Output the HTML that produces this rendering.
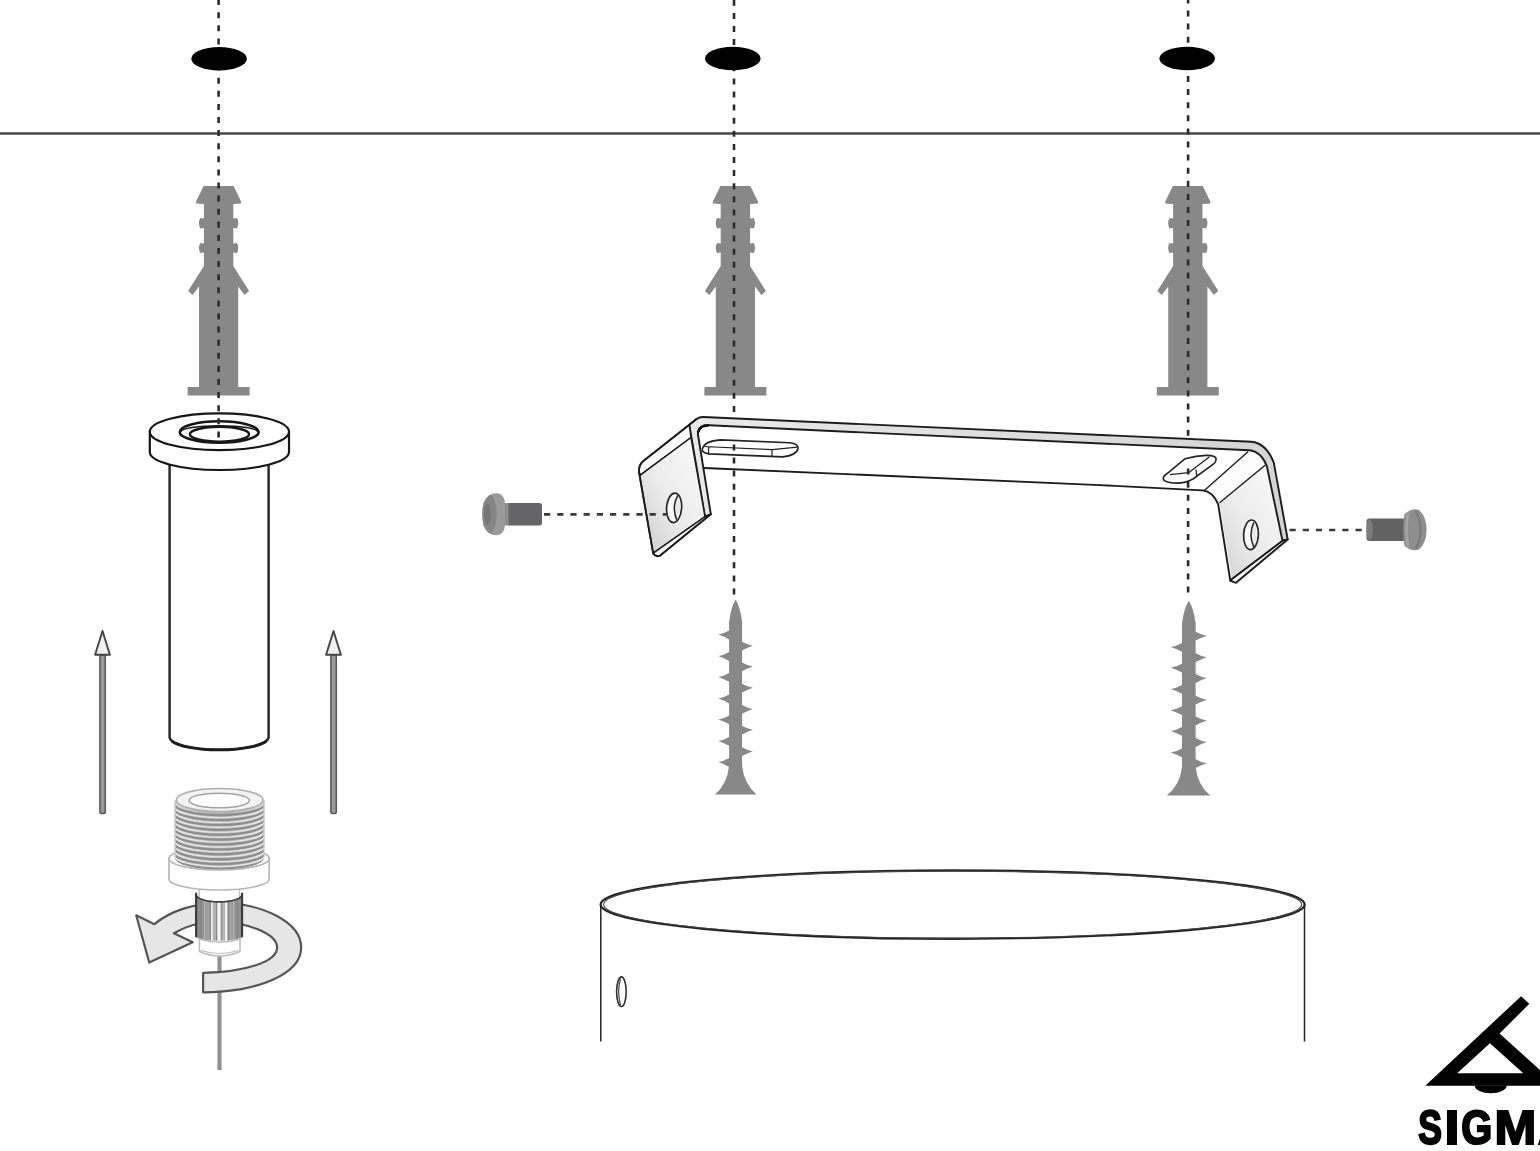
<!DOCTYPE html>
<html><head><meta charset="utf-8">
<style>
html,body{margin:0;padding:0;background:#fff;}
body{width:1540px;height:1151px;overflow:hidden;font-family:"Liberation Sans",sans-serif;}
svg{display:block;}
</style></head><body>
<svg width="1540" height="1151" viewBox="0 0 1540 1151">
<defs>
  <filter id="b" x="-5%" y="-5%" width="110%" height="110%"><feGaussianBlur stdDeviation="0.6"/></filter>
  <!-- wall plug, centred on x=0 -->
  <path id="plug" fill="#888" d="M-15,186 L15,186 L22.5,201.5 L22.5,203.5 L14.7,204
    L14.7,218.5 L18.3,218 Q21,223 18.3,228.5 L14.7,228 L14.7,243.5 L18.3,243 Q21,248 18.3,253 L14.7,252.5
    L14.7,266 L30.5,291 L26,295 L19.6,286.5 L19.6,387 L31,387 L31,395.5 L-31,395.5 L-31,387 L-19.6,387
    L-19.6,286.5 L-26,295 L-30.5,291 L-14.7,266
    L-14.7,252.5 L-18.3,253 Q-21,248 -18.3,243 L-14.7,243.5 L-14.7,228 L-18.3,228.5 Q-21,223 -18.3,218 L-14.7,218.5
    L-14.7,204 L-22.5,203.5 L-22.5,201.5 Z"/>
</defs>
<rect width="1540" height="1151" fill="#fff"/>
<g filter="url(#b)">
<!-- ceiling line -->
<line x1="-6" y1="133.5" x2="1546" y2="133.5" stroke="#484848" stroke-width="2.3"/>

<!-- plugs -->
<use href="#plug" x="218.6"/>
<use href="#plug" x="735.4"/>
<use href="#plug" x="1187.8"/>


<!-- dashed verticals (upper part) -->
<g stroke="#2c2c2c" stroke-width="2.6" stroke-dasharray="6 7.1" fill="none">
  <line x1="734" y1="-0.2" x2="734" y2="415"/>
  <line x1="1188.1" y1="-2.6" x2="1188.1" y2="436"/>
</g>
<!--LEFT-BEGIN-->
<!-- LEFT: flanged tube -->
<g stroke="#151515" stroke-width="2.2" fill="#fff" stroke-linejoin="round">
  <!-- tube -->
  <path d="M169.6,462 L169.6,737 A49.5,12.5 0 0 0 268.6,737 L268.6,462 Z" stroke="#2c2c2c" stroke-width="2.5"/>
  <path d="M171.5,741 A49.5,12.5 0 0 0 266.7,741" fill="none" stroke="#1a1a1a" stroke-width="2.6"/>
  <!-- flange side -->
  <path d="M149.8,431.8 L149.8,452 A69.6,18 0 0 0 289,452 L289,431.8 Z"/>
  <!-- flange top -->
  <ellipse cx="219.4" cy="431.8" rx="69.6" ry="18.4"/>
  <ellipse cx="219.2" cy="432" rx="39.5" ry="10.7" stroke-width="2.6"/>
  <path d="M181,431.8 A38.2,6 0 0 1 257.4,431.8" fill="none" stroke-width="1.6"/>
  <ellipse cx="219.5" cy="434.2" rx="29.6" ry="7.4" stroke-width="2.4"/>
</g>
<line x1="218.6" y1="-0.9" x2="218.6" y2="438" stroke="#2c2c2c" stroke-width="2.6" stroke-dasharray="6 7.1"/>

<!-- up arrows -->
<g stroke="#555" stroke-width="1.5" stroke-linejoin="round">
  <rect x="99.9" y="655" width="5.4" height="158.6" rx="1.5" fill="#9a9a9a"/>
  <path d="M102.5,631 L109.9,654.8 L95.1,654.8 Z" fill="#f0f0f0" stroke="#444" stroke-width="1.9"/>
  <rect x="330.9" y="655" width="5.4" height="158.6" rx="1.5" fill="#9a9a9a"/>
  <path d="M333.5,631 L340.9,654.8 L326.1,654.8 Z" fill="#f0f0f0" stroke="#444" stroke-width="1.9"/>
</g>

<!-- wire -->
<line x1="219.5" y1="950" x2="219.5" y2="1070" stroke="#909090" stroke-width="4.2"/>

<!-- rotation arrow: back part (behind knurl) -->
<path id="rot" fill="#e6e6e6" stroke="#555" stroke-width="2.2" stroke-linejoin="round"
 d="M203.1,972.9 C245,972 277.1,962 277.1,947.5 C277.1,933 245,922 219,922 C200,922 184,927 173.9,933.2
    L192.7,942.3 L149.2,962.5 L136.2,915.3 L154.4,924.2 C170,911 195,903 219,903 C264,903 301.2,923 301.2,947.5
    C301.2,974 258,992 203.1,992.3 Z"/>

<!-- threaded nipple -->
<g>
  <!-- neck -->
  <rect x="199" y="888" width="40" height="12" fill="#fff"/><path d="M199.3,888 L199.3,897 M239.5,888 L239.5,897" fill="none" stroke="#c4c4c4" stroke-width="1.5"/>
  <!-- collar (behind threads) -->
  <path d="M169,858.5 L169,879 A50,11 0 0 0 269.2,879 L269.2,858.5 Z" fill="#fff" stroke="#b8b8b8" stroke-width="1.7"/>
  <ellipse cx="219.1" cy="858.5" rx="50.1" ry="11.5" fill="#fff" stroke="#b8b8b8" stroke-width="1.7"/>
  <clipPath id="thr"><path d="M175,800 L175,858 A44.5,11.5 0 0 0 264,858 L264,800 A44.5,11.5 0 0 0 175,800 Z"/></clipPath>
  <linearGradient id="thg" x1="0" x2="1" y1="0" y2="0">
    <stop offset="0" stop-color="#d9d9d9"/><stop offset="0.3" stop-color="#bdbdbd"/><stop offset="0.6" stop-color="#b4b4b4"/><stop offset="1" stop-color="#dcdcdc"/>
  </linearGradient>
  <path d="M175,800 L175,858 A44.5,11.5 0 0 0 264,858 L264,800 Z" fill="url(#thg)"/>
  <g clip-path="url(#thr)" fill="none" stroke="#8f8f8f" stroke-width="2.3">
    <path d="M174,803.5 A45,11.5 0 0 0 265,803.5"/>
    <path d="M174,808.4 A45,11.5 0 0 0 265,808.4"/>
    <path d="M174,813.3 A45,11.5 0 0 0 265,813.3"/>
    <path d="M174,818.2 A45,11.5 0 0 0 265,818.2"/>
    <path d="M174,823.1 A45,11.5 0 0 0 265,823.1"/>
    <path d="M174,828 A45,11.5 0 0 0 265,828"/>
    <path d="M174,832.9 A45,11.5 0 0 0 265,832.9"/>
    <path d="M174,837.8 A45,11.5 0 0 0 265,837.8"/>
    <path d="M174,842.7 A45,11.5 0 0 0 265,842.7"/>
    <path d="M174,847.6 A45,11.5 0 0 0 265,847.6"/>
    <path d="M174,852.5 A45,11.5 0 0 0 265,852.5"/>
    <path d="M174,857 A45,11.5 0 0 0 265,857"/>
  </g>
  <g clip-path="url(#thr)" fill="none" stroke="#e6e6e6" stroke-width="1.3">
    <path d="M174,805.95 A45,11.5 0 0 0 265,805.95"/>
    <path d="M174,810.85 A45,11.5 0 0 0 265,810.85"/>
    <path d="M174,815.75 A45,11.5 0 0 0 265,815.75"/>
    <path d="M174,820.65 A45,11.5 0 0 0 265,820.65"/>
    <path d="M174,825.55 A45,11.5 0 0 0 265,825.55"/>
    <path d="M174,830.45 A45,11.5 0 0 0 265,830.45"/>
    <path d="M174,835.35 A45,11.5 0 0 0 265,835.35"/>
    <path d="M174,840.25 A45,11.5 0 0 0 265,840.25"/>
    <path d="M174,845.15 A45,11.5 0 0 0 265,845.15"/>
    <path d="M174,850.05 A45,11.5 0 0 0 265,850.05"/>
    <path d="M174,854.95 A45,11.5 0 0 0 265,854.95"/>
  </g>
  <path d="M175,800 L175,857 M264,800 L264,857" stroke="#c9c9c9" stroke-width="1.4" fill="none"/>
  <ellipse cx="219.7" cy="800" rx="43.4" ry="11.5" fill="#f3f3f3" stroke="#b0b0b0" stroke-width="1.6"/>
  <ellipse cx="219.2" cy="800.5" rx="30.2" ry="7.3" fill="#fff" stroke="#a4a4a4" stroke-width="1.6"/>
</g>
<!-- knurl -->
<g>
  <linearGradient id="kng" x1="0" x2="1" y1="0" y2="0">
    <stop offset="0" stop-color="#868686"/><stop offset="0.28" stop-color="#a2a2a2"/><stop offset="0.5" stop-color="#c6c6c6"/><stop offset="0.72" stop-color="#a4a4a4"/><stop offset="1" stop-color="#8a8a8a"/>
  </linearGradient>
  <clipPath id="kn"><path d="M196.1,894.5 A23,7.4 0 0 0 242.1,894.5 L242.1,936.3 A23,4.5 0 0 1 196.1,936.3 Z"/></clipPath>
  <path d="M196.1,894.5 A23,7.4 0 0 0 242.1,894.5 L242.1,936.3 A23,4.5 0 0 1 196.1,936.3 Z" fill="url(#kng)"/>
  <g clip-path="url(#kn)">
    <g stroke="#f4f4f4">
      <line x1="211.9" y1="890" x2="211.9" y2="945" stroke-width="1.7"/>
      <line x1="219" y1="890" x2="219" y2="945" stroke-width="2.8"/>
      <line x1="226.2" y1="890" x2="226.2" y2="945" stroke-width="2.1"/>
      <line x1="204.5" y1="890" x2="204.5" y2="945" stroke-width="0.9" stroke="#b4b4b4"/>
      <line x1="233.5" y1="890" x2="233.5" y2="945" stroke-width="0.9" stroke="#b4b4b4"/>
    </g>
    <g stroke="#7a7a7a" stroke-width="0.9">
      <line x1="210.3" y1="890" x2="210.3" y2="945"/><line x1="216.4" y1="890" x2="216.4" y2="945"/>
      <line x1="221.8" y1="890" x2="221.8" y2="945"/><line x1="228.6" y1="890" x2="228.6" y2="945"/>
      <line x1="201" y1="890" x2="201" y2="945"/><line x1="237" y1="890" x2="237" y2="945"/>
    </g>
  </g>
  <path d="M196.1,936.5 L196.1,893.5 M242.1,893.5 L242.1,936.5" fill="none" stroke="#3a3a3a" stroke-width="2.1" stroke-linecap="round"/>
  <path d="M196.1,894.5 A23,7.4 0 0 0 242.1,894.5" fill="none" stroke="#3a3a3a" stroke-width="1.7"/>
  <!-- lower cap -->
  <path d="M199.4,939 L199.4,951.5 Q219.500,960.500 240,951.5 L240,939 Q219.5,945.500 199.4,939 Z" fill="#fff" stroke="#bdbdbd" stroke-width="1.5"/>
  <path d="M201,950.300 Q219.500,956.800 238.500,950.300" fill="none" stroke="#c6c6c6" stroke-width="1.3"/>
</g>
<!--LEFT-END-->
<!--BRACKET-BEGIN-->
<!-- BRACKET -->
<defs>
  <linearGradient id="flapL" x1="0" y1="1" x2="1" y2="0">
    <stop offset="0" stop-color="#c9c9c9"/><stop offset="0.45" stop-color="#ececec"/><stop offset="1" stop-color="#fafafa"/>
  </linearGradient>
  <linearGradient id="flapR" x1="0" y1="1" x2="1" y2="0">
    <stop offset="0" stop-color="#cdcdcd"/><stop offset="0.5" stop-color="#ededed"/><stop offset="1" stop-color="#fbfbfb"/>
  </linearGradient>
  <linearGradient id="edgeG" x1="0" y1="0" x2="1" y2="0">
    <stop offset="0" stop-color="#e9e9e9"/><stop offset="1" stop-color="#d4d4d4"/>
  </linearGradient>
</defs>
<g stroke="#1c1c1c" stroke-width="1.9" stroke-linejoin="round" stroke-linecap="round" fill="#fff">
  <!-- top plate (upper surface seen from below) -->
  <path d="M702,430 L1249,450.5 L1204,490.5 L705,468 Z" stroke="none"/>
  <!-- right flap face -->
  <path d="M1204.3,490.4 L1247.7,452.1 L1265.1,465.2 L1282.5,539.5 L1232,579 L1219.5,503 Z" fill="url(#flapR)" stroke="none"/>
  <!-- right bend zone white -->
  <path d="M1204.3,490.4 L1247.7,452.1 L1265.1,465.2 L1219.9,502.5 Z" fill="#fdfdfd" stroke="none"/>
  <!-- front thickness band: left flap right strip + top + right edge -->
  <path d="M705,516.7 L689.3,424.8 L696.5,419 Q699.5,416.8 703.5,417 L1251.2,441.8 Q1266,443 1273.8,462.6 L1287.7,539.5 L1282.5,540.7 L1266.8,466 Q1261,451.5 1249.4,450.3 L709,425.3 Q699.6,424.8 697.8,433.5 L710.8,514.2 Z" fill="url(#edgeG)"/>
  <path d="M698.2,431.5 Q699.8,425.6 708,425.4" fill="none" stroke="#111" stroke-width="2.6"/>
  <!-- right flap bottom strip -->
  <path d="M1282.5,540.7 L1287.7,539.5 L1236,582.8 L1230.3,580.7 L1232,579 Z" fill="#f4f4f4"/>
  <!-- right flap outlines -->
  <path d="M1100,485.1 L1202.5,490.4 Q1213,491.5 1218.2,504.3 L1230.3,580.7" fill="none"/>
  <path d="M1204.3,490.4 L1247.7,452.1" fill="none" stroke-width="1.4"/>
  <path d="M1219.9,502.5 L1265.1,465.2" fill="none" stroke-width="1.4"/>
  <path d="M1232,579 L1282.5,540.7" fill="none" stroke-width="1.3"/>
  <!-- top plate lower (far) edge -->
  <path d="M704.2,468 L1100,485.1" fill="none"/>

  <!-- left flap: top strip -->
  <path d="M638.9,471.5 Q639.3,464.5 643.3,461.1 L689.3,424.8 L691,437.5 L640.3,475.2 Z" fill="#fcfcfc" stroke-width="1.5"/>
  <!-- left flap face -->
  <path d="M638.9,471.5 L640.3,475.2 L691,437.5 L705,516.7 L654.7,552.1 L653.2,553.6 Z" fill="url(#flapL)" stroke-width="1.5"/>
  <!-- left flap bottom strip -->
  <path d="M653.2,553.6 L654.7,552.1 L705,516.7 L710.8,514.2 L659.9,555.8 Q655.5,557 653.2,553.6 Z" fill="#f3f3f3" stroke-width="1.4"/>
  <!-- left flap outer outline -->
  <path d="M696.5,419 L643.3,461.1 Q638.8,464.5 638.9,471.5 L653.2,553.6 Q655.5,557.2 659.9,555.8 L710.8,514.2" fill="none" stroke-width="1.9"/>
</g>

<!-- holes in flaps -->
<g stroke="#252525" stroke-width="1.7" fill="#f9f9f9">
  <ellipse cx="674.1" cy="507.8" rx="7.5" ry="14.8" transform="rotate(4 674.1 507.8)"/>
  <path d="M677.8,495.3 Q671.2,507.6 677,520.4 Q683.5,508 677.8,495.3 Z" fill="#e9e9e9" stroke="none"/>
  <path d="M677.8,495.300 Q671.2,507.6 677,520.4" fill="none" stroke-width="1.5"/>
  <ellipse cx="1251" cy="534.8" rx="7.4" ry="14.8" transform="rotate(3 1251 534.8)"/>
  <path d="M1253.8,522.4 Q1248.2,534.8 1253.8,547.1 Q1260,535 1253.8,522.4 Z" fill="#e9e9e9" stroke="none"/>
  <path d="M1253.8,522.4 Q1248.2,534.8 1253.8,547.1" fill="none" stroke-width="1.5"/>
</g>

<!-- left slot -->
<g stroke="#222" stroke-width="1.6" fill="#fff" stroke-linejoin="round">
  <path d="M720.4,439.9 L789.9,442.8 Q799,444 798,448.5 Q796.5,455.5 782.5,456.9 L708.6,453.9 Q701,452.5 702.5,448.5 Q705,441 720.4,439.9 Z"/>
  <path d="M703.5,446.5 L772,449.6 L797.5,447.2 M772,449.6 L772,456.4 M708.6,447 L708.6,453.6" fill="none" stroke-width="1.2"/>
</g>
<!-- right slot -->
<g stroke="#222" stroke-width="1.6" fill="#fff" stroke-linejoin="round">
  <path d="M1185.1,458.7 Q1196,455.8 1206,455.4 Q1217,455.2 1216,459.8 Q1215.5,462.2 1214.3,463.4 L1193,479 Q1185,483.8 1173.4,483 Q1162,482 1163.4,477.5 Q1164.5,475 1167.5,473.3 Z"/>
  <path d="M1169.9,474.6 L1188.6,472.7 L1209.5,456.8 M1196,469.5 L1196.8,476.6" fill="none" stroke-width="1.3"/>
</g>

<!-- dashed verticals, lower parts (in front of plate) -->
<g stroke="#2c2c2c" stroke-width="2.6" stroke-dasharray="6 7.1" fill="none">
  <line x1="734" y1="444.4" x2="734" y2="597"/>
  <line x1="1188.1" y1="468.6" x2="1188.1" y2="598"/>
</g>

<!-- horizontal dashed -->
<g stroke="#3a3a3a" stroke-width="2.6" stroke-dasharray="6.2 7" fill="none">
  <line x1="544" y1="514.4" x2="668" y2="514.4"/>
  <line x1="1289.5" y1="530" x2="1363" y2="530"/>
</g>

<!-- bolts -->
<g>
  <rect x="506" y="503.1" width="36" height="22.3" rx="2.6" fill="#656567"/>
  <rect x="503.5" y="503.1" width="5.2" height="22.3" fill="#8b8b8b"/>
  <clipPath id="bh1"><path d="M504.6,500.2 Q503,494.300 497.5,493.2 Q488,492.300 483.600,503 Q481,514.2 483.600,525.500 Q488,536 497.5,535.2 Q503,534 504.6,527.9 Q506,514 504.6,500.2 Z"/></clipPath>
  <path d="M504.6,500.2 Q503,494.300 497.5,493.2 Q488,492.300 483.600,503 Q481,514.2 483.600,525.500 Q488,536 497.5,535.2 Q503,534 504.6,527.9 Q506,514 504.6,500.2 Z" fill="#9a9a9b"/>
  <g clip-path="url(#bh1)">
    <ellipse cx="488.8" cy="514.2" rx="7.8" ry="20" fill="#858586"/>
    <ellipse cx="487.4" cy="514.2" rx="3.4" ry="10.5" fill="#767677"/>
  </g>
  <rect x="1366.5" y="518.6" width="42" height="22.4" rx="3" fill="#626262"/>
  <ellipse cx="1369.6" cy="529.8" rx="3.2" ry="10.6" fill="#7c7c7c"/>
  <path d="M1404.5,514 Q1402,530 1404.5,546 Q1412,552 1419,549.5 Q1426.5,543 1426.6,529.8 Q1426.5,516.5 1419,510 Q1412,507.500 1404.5,514 Z" fill="#8e8e8e"/>
  <path d="M1408,512.500 Q1405,530 1408,547" fill="none" stroke="#a5a5a5" stroke-width="2.6"/>
  <path d="M1415.500,511 Q1420.500,520 1420.500,530 Q1420.500,540 1415.500,549" fill="none" stroke="#7d7d7d" stroke-width="2.4"/>
</g>

<!--BRACKET-END-->
<!--REST-BEGIN-->
<!-- SCREWS -->
<defs>
  <path id="screw" fill="#888" d="M0,599.6 Q4.6,607 6.5,622 L6.5,641.7 Q11.5,644.7 17.2,645.7 Q11.5,647.7 6.5,650.5 L6.5,662.5 Q11.5,665.5 17.2,666.5 Q11.5,668.5 6.5,671.3 L6.5,683.7 Q11.5,686.7 17.2,687.7 Q11.5,689.7 6.5,692.5 L6.5,705.0 Q11.5,708.0 17.2,709.0 Q11.5,711.0 6.5,713.8 L6.5,725.8 Q11.5,728.8 17.2,729.8 Q11.5,731.8 6.5,734.6 L6.5,747.3 Q11.5,750.3 17.2,751.3 Q11.5,753.3 6.5,756.1 L6.5,766 Q8.5,784 21,794.4 L-20.5,794.4 Q-8.5,784 -6.5,766 L-6.5,766.9 Q-11.5,764.1 -17.2,762.1 Q-11.5,761.1 -6.5,758.1 L-6.5,745.7 Q-11.5,742.9 -17.2,740.9 Q-11.5,739.9 -6.5,736.9 L-6.5,724.2 Q-11.5,721.4 -17.2,719.4 Q-11.5,718.4 -6.5,715.4 L-6.5,703.4 Q-11.5,700.6 -17.2,698.6 Q-11.5,697.6 -6.5,694.6 L-6.5,681.7 Q-11.5,678.9 -17.2,676.9 Q-11.5,675.9 -6.5,672.9 L-6.5,660.9 Q-11.5,658.1 -17.2,656.1 Q-11.5,655.1 -6.5,652.1 L-6.5,639.4 Q-11.5,636.6 -17.2,634.6 Q-11.5,633.6 -6.5,630.6 L-6.5,622 Q-4.6,607 0,599.6 Z"/>
</defs>
<use href="#screw" x="735.600"/>
<g transform="translate(1188.8,1.2) scale(-1.05,1)"><use href="#screw"/></g>

<!-- CYLINDER -->
<g fill="none" stroke="#222">
  <ellipse cx="952.600" cy="904.600" rx="352" ry="34.200" stroke-width="2.2" fill="#fff"/>
  <ellipse cx="952.600" cy="904.600" rx="349" ry="33.500" stroke-width="1.1" stroke="#444"/>
    <line x1="600.800" y1="904.600" x2="600.800" y2="1041.500" stroke-width="1.500"/>
  <line x1="1304.500" y1="904.600" x2="1304.500" y2="1041.500" stroke-width="1.500"/>
  <ellipse cx="621.400" cy="991.700" rx="4.800" ry="14.800" stroke-width="1.600" stroke="#333"/>
  <path d="M620.500,978.500 Q616.800,991.500 620.500,1005" stroke-width="1.200" stroke="#444"/>
</g>

<!-- LOGO -->
<g fill="#000">
  <path d="M1425.300,1085.800 L1521.100,996.300 L1529.300,1003.800 L1499.600,1033.500 L1546,1075.4 L1546,1085.800 Z"/>
  <path d="M1457.200,1073.300 L1489.900,1043.200 L1523.300,1073.300 Z" fill="#fff"/>
  <path d="M1474.700,1085.500 A16,7.800 0 0 0 1506.700,1085.500 Z"/>
  <g font-family="Liberation Sans, sans-serif" font-weight="bold" font-size="48.8" stroke="#000" stroke-width="2" stroke-linejoin="miter" fill="#000">
    <text transform="translate(1418.3,1143.7) scale(0.727,1)" stroke-width="2.3">S</text>
    <text transform="translate(1444.2,1143.7) scale(1.139,1)" stroke-width="1.8">I</text>
    <text transform="translate(1461.3,1143.7) scale(0.816,1)" stroke-width="2.2">G</text>
    <text transform="translate(1494.5,1143.7) scale(1.028,1)" stroke-width="2">M</text>
    <text transform="translate(1538.1,1143.7) scale(0.957,1)">A</text>
  </g>
</g>

<!--REST-END-->
<!-- black holes -->
<ellipse cx="219.1" cy="58.7" rx="27.8" ry="11.7" fill="#000"/>
<ellipse cx="732.8" cy="58.5" rx="27.8" ry="11.7" fill="#000"/>
<ellipse cx="1187.2" cy="58.5" rx="27.8" ry="11.7" fill="#000"/>

<!--SECTION:LOGO-->
</g>
</svg>
</body></html>
